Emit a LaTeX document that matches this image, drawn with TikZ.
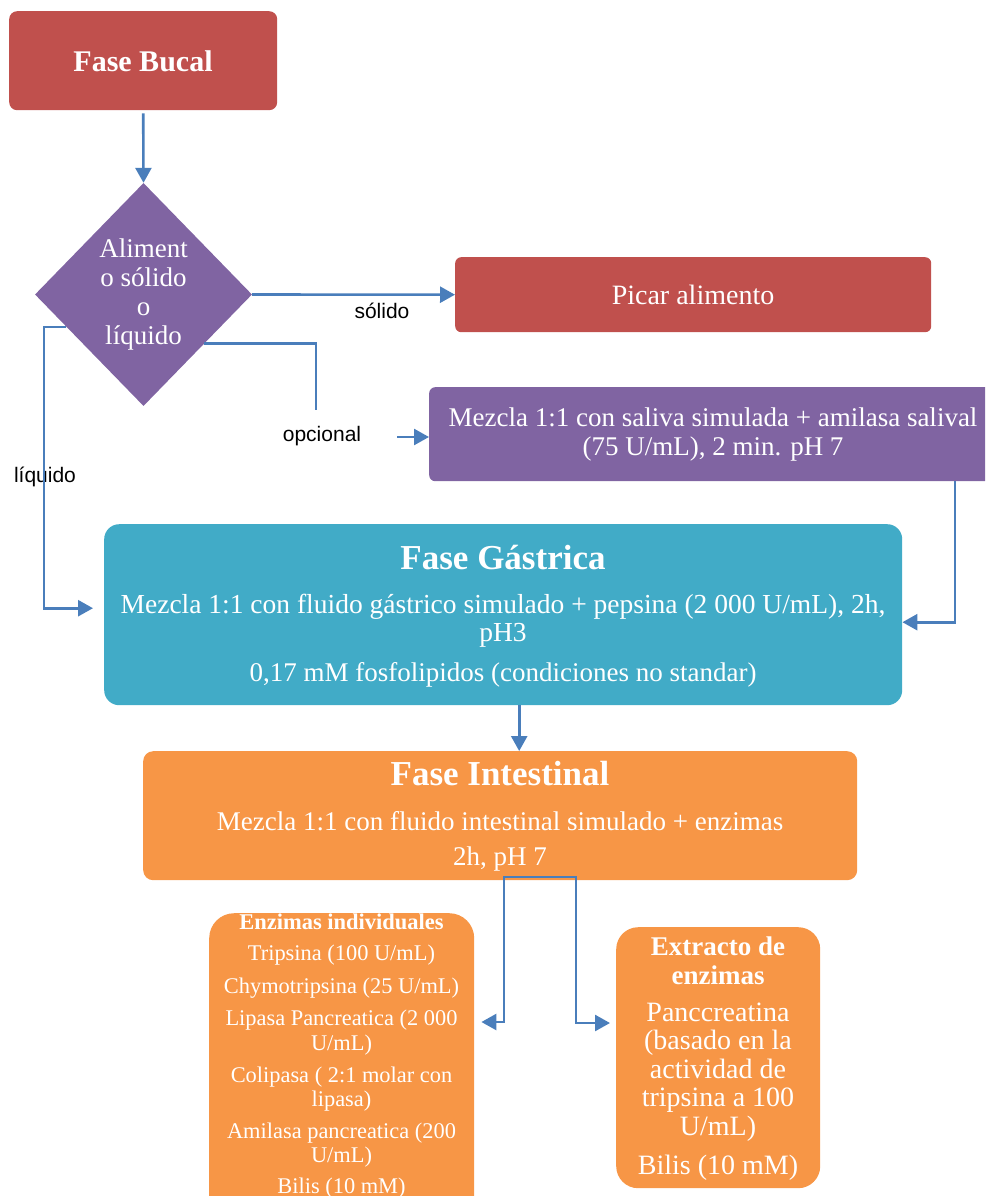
\documentclass[tikz,border=0pt]{standalone}
\usepackage{fontspec}
\setmainfont{Liberation Serif}
\newfontfamily\labelfont{Liberation Sans}
\usetikzlibrary{shapes.geometric,arrows.meta,calc}

\definecolor{bucred}{HTML}{C0504D}
\definecolor{purp}{HTML}{8064A2}
\definecolor{gasblue}{HTML}{41ABC7}
\definecolor{intorange}{HTML}{F79646}
\definecolor{linkblue}{HTML}{4A7EBB}

\newcommand\fsz[2]{\fontsize{#1}{#2}\selectfont}

\begin{document}
\begin{tikzpicture}[x=1pt,y=-1pt,
  box/.style={inner sep=0pt, anchor=north west},
  txt/.style={text=white, align=center, inner sep=0pt},
  lbl/.style={text=black, align=center, inner sep=0pt, font=\labelfont\fsz{21}{23}},
  link/.style={draw=linkblue, line width=2.6pt},
  arr/.style={link, -{Triangle[length=15pt,width=16pt]}}
]
\useasboundingbox (0,0) rectangle (985,1196);
\clip (0,0) rectangle (985,1196);

% boxes
\node[box, fill=bucred, rounded corners=8pt, minimum width=268pt, minimum height=99pt] (buc) at (9,11) {};
\node[diamond, fill=purp, inner sep=0pt, minimum width=217pt, minimum height=223pt] (dia) at (143.5,294.5) {};
\node[box, fill=bucred, rounded corners=6pt, minimum width=476pt, minimum height=75pt] (pic) at (455,257) {};
\node[box, fill=purp, rounded corners=6pt, minimum width=570pt, minimum height=94pt] (mez) at (429,387) {};
\node[box, fill=gasblue, rounded corners=15pt, minimum width=798pt, minimum height=181pt] (gas) at (104,524) {};
\node[box, fill=intorange, rounded corners=10pt, minimum width=714pt, minimum height=129pt] (int) at (143,751) {};
\node[box, fill=intorange, rounded corners=25pt, minimum width=265pt, minimum height=310pt] (enz) at (209,913) {};
\node[box, fill=intorange, rounded corners=22pt, minimum width=204pt, minimum height=261pt] (ext) at (616,927) {};

% box texts
\node[txt, font=\fsz{30}{32}\bfseries] (tbuc) at (143,61) {Fase Bucal};
\node[txt, font=\fsz{27}{29}] (tdia) at (143.5,295) {Aliment\\o sólido\\o\\líquido};
\node[txt, font=\fsz{28}{30}] (tpic) at (693,295) {Picar alimento};
\node[txt, font=\fsz{27}{29}] (tmez) at (713,434.5) {Mezcla 1:1 con saliva simulada + amilasa salival\\(75 U/mL), 2 min. pH 7};
\node[txt, font=\fsz{35}{37}\bfseries] (tgas1) at (503,558) {Fase Gástrica};
\node[txt, font=\fsz{27.5}{27.5}] (tgas2) at (503,620.5) {Mezcla 1:1 con fluido gástrico simulado + pepsina (2 000 U/mL), 2h,\\pH3};
\node[txt, font=\fsz{27}{29}] (tgas3) at (503,675) {0,17 mM fosfolipidos (condiciones no standar)};
\node[txt, font=\fsz{35}{37}\bfseries] (tint1) at (500,774) {Fase Intestinal};
\node[txt, font=\fsz{27}{29}] (tint2) at (500,821) {Mezcla 1:1 con fluido intestinal simulado + enzimas};
\node[txt, font=\fsz{27}{29}] (tint3) at (500,859) {2h, pH 7};

\node[txt, font=\fsz{22.5}{24}\bfseries] (tenz0) at (341.5,922) {Enzimas individuales};
\node[txt, font=\fsz{22.4}{25}] (tenz1) at (341.5,955) {Tripsina (100 U/mL)};
\node[txt, font=\fsz{22.4}{25}] (tenz2) at (341.5,988) {Chymotripsina (25 U/mL)};
\node[txt, font=\fsz{22.4}{25}] (tenz3) at (341.5,1032.5) {Lipasa Pancreatica (2 000\\U/mL)};
\node[txt, font=\fsz{22.4}{24}] (tenz4) at (341.5,1089) {Colipasa ( 2:1 molar con\\lipasa)};
\node[txt, font=\fsz{22.4}{24}] (tenz5) at (341.5,1145) {Amilasa pancreatica (200\\U/mL)};
\node[txt, font=\fsz{22.4}{25}] (tenz6) at (341.5,1188) {Bilis (10 mM)};

\node[txt, font=\fsz{27}{29}\bfseries] (text1) at (718,960.5) {Extracto de\\enzimas};
\node[txt, font=\fsz{28}{28.5}] (text2) at (718,1072) {Panccreatina\\(basado en la\\actividad de\\tripsina a 100\\U/mL)};
\node[txt, font=\fsz{28}{30}] (text3) at (718,1168) {Bilis (10 mM)};

% connector labels
\node[lbl] (lsol) at (382,311) {sólido};
\node[lbl] (lopc) at (322,436) {opcional};
\node[lbl] (lliq) at (45,477) {líquido};

% helper points for the elbow connectors
\coordinate (ls) at ($(dia.west)!0.29!(dia.south)$);
\coordinate (os) at ($(dia.east)!0.44!(dia.south)$);
\coordinate (xl) at (44,0);
\coordinate (o1) at (316,410);
\coordinate (o2) at (397,437);
\coordinate (mx) at (955,0);
\coordinate (m1) at (mez.south -| mx);
\coordinate (g1) at ($(gas.south)+(16,0)$);
\coordinate (s1) at (504,877);
\coordinate (s2) at (576,877);
\coordinate (e1) at (504,1022);
\coordinate (e2) at (576,1023);

% connectors
\draw[arr, shorten <=3pt] (buc.south) -- (dia.north);
\draw[arr] (dia.east) -- (pic.west);
\draw[link] (os) -| (o1);
\draw[arr] (o2) -- (o2 -| mez.west);
\draw[arr, shorten >=11pt] (ls) -- (ls -| xl) |- ($(gas.west)+(0,-6.5)$);
\draw[arr] (m1) |- ($(gas.east)+(0,7.5)$);
\draw[arr] (g1) -- (g1 |- int.north);
\draw[arr, shorten >=7pt] (s2) -- (s1) -- (e1) -- (e1 -| enz.east);
\draw[arr, shorten >=6pt] (s1) -- (s2) -- (e2) -- (e2 -| ext.west);
\end{tikzpicture}
\end{document}
